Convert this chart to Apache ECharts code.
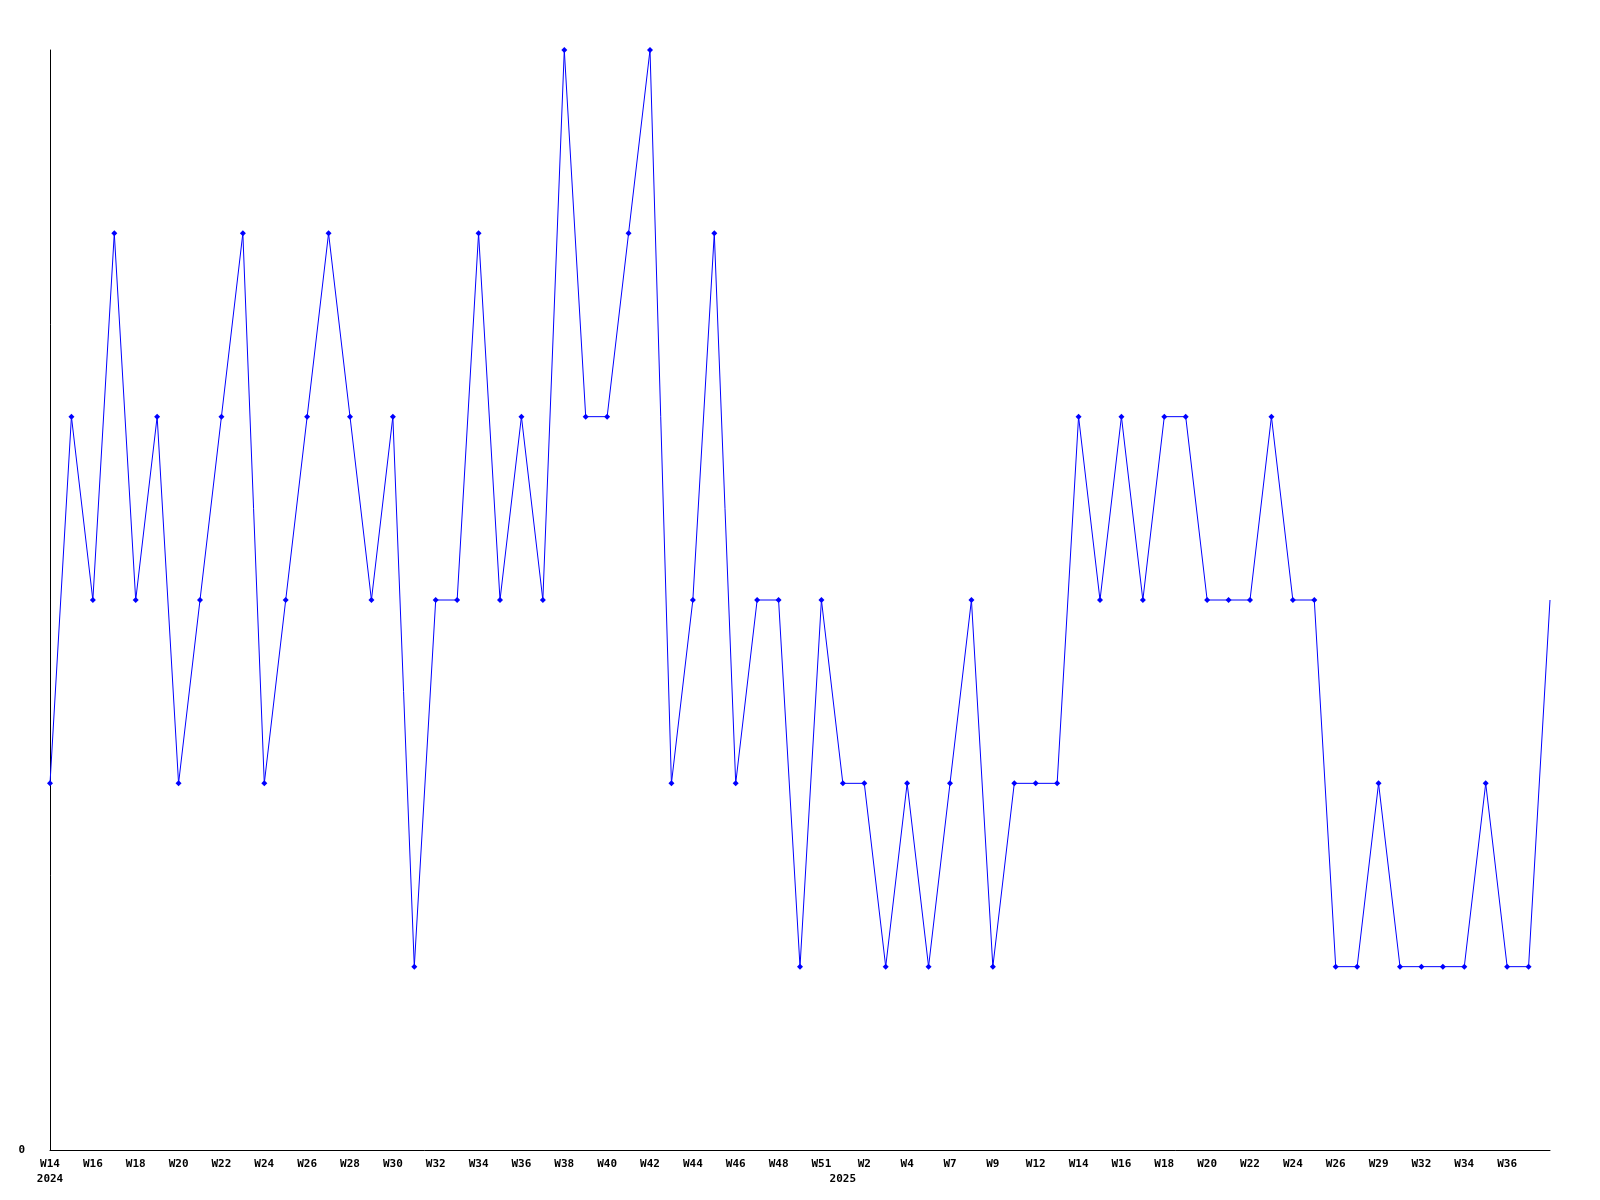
<!DOCTYPE html>
<html>
<head>
<meta charset="utf-8">
<script src="https://cdn.jsdelivr.net/npm/echarts@6/dist/echarts.min.js"></script>
<style>html,body{margin:0;padding:0;background:#fff}#c{width:1600px;height:1200px}</style>
</head>
<body>
<div id="c"></div>
<script>
const weeks = ['W14','W15','W16','W17','W18','W19','W20','W21','W22','W23','W24','W25','W26','W27','W28','W29','W30','W31','W32','W33','W34','W35','W36','W37','W38','W39','W40','W41','W42','W43','W44','W45','W46','W47','W48','W49','W51','W1','W2','W3','W4','W6','W7','W8','W9','W11','W12','W13','W14','W15','W16','W17','W18','W19','W20','W21','W22','W23','W24','W25','W26','W28','W29','W31','W32','W33','W34','W35','W36','W37','W38'];
const yearLabels = {0: '2024', 37: '2025'};
const values = [2,4,3,5,3,4,2,3,4,5,2,3,4,5,4,3,4,1,3,3,5,3,4,3,6,4,4,5,6,2,3,5,2,3,3,1,3,2,2,1,2,1,2,3,1,2,2,2,4,3,4,3,4,4,3,3,3,4,3,3,1,1,2,1,1,1,1,2,1,1,3];
const yTicks = [0];

const chart = echarts.init(document.getElementById('c'), null, {renderer: 'canvas'});
const font = {fontFamily: 'DejaVu Sans Mono', fontWeight: 'bold', fontSize: 11, color: '#000'};
const last = weeks.length - 1;
chart.setOption({
  animation: false,
  grid: {left: 50, right: 50, top: 50, bottom: 50, containLabel: false},
  xAxis: {
    type: 'category',
    data: weeks,
    boundaryGap: false,
    axisLine: {lineStyle: {color: '#000', width: 1}},
    axisTick: {show: false},
    splitLine: {show: false},
    axisLabel: Object.assign({}, font, {
      margin: 7,
      lineHeight: 15,
      interval: function (i) { return (i % 2 === 0 && i !== last) || yearLabels[i] !== undefined; },
      formatter: function (v, i) {
        const y = yearLabels[i];
        if (i === last) return '';
        if (i % 2 === 0) return y ? v + '\n' + y : v;
        return y ? '\n' + y : '';
      }
    })
  },
  yAxis: {
    type: 'value',
    min: 0, max: 6, interval: 6,
    axisLine: {show: true, lineStyle: {color: '#000', width: 1}},
    axisTick: {show: false},
    splitLine: {show: false},
    axisLabel: Object.assign({}, font, {
      margin: 25,
      formatter: function (v) { return yTicks.indexOf(v) >= 0 ? String(v) : ''; }
    })
  },
  series: [{
    type: 'line',
    data: values.map((v, i) => i === last ? {value: v, symbol: 'none'} : v),
    symbol: 'diamond',
    symbolSize: 6,
    showAllSymbol: true,
    lineStyle: {color: '#0000ff', width: 1},
    itemStyle: {color: '#0000ff'},
    emphasis: {disabled: true}
  }]
});
</script>
</body>
</html>
